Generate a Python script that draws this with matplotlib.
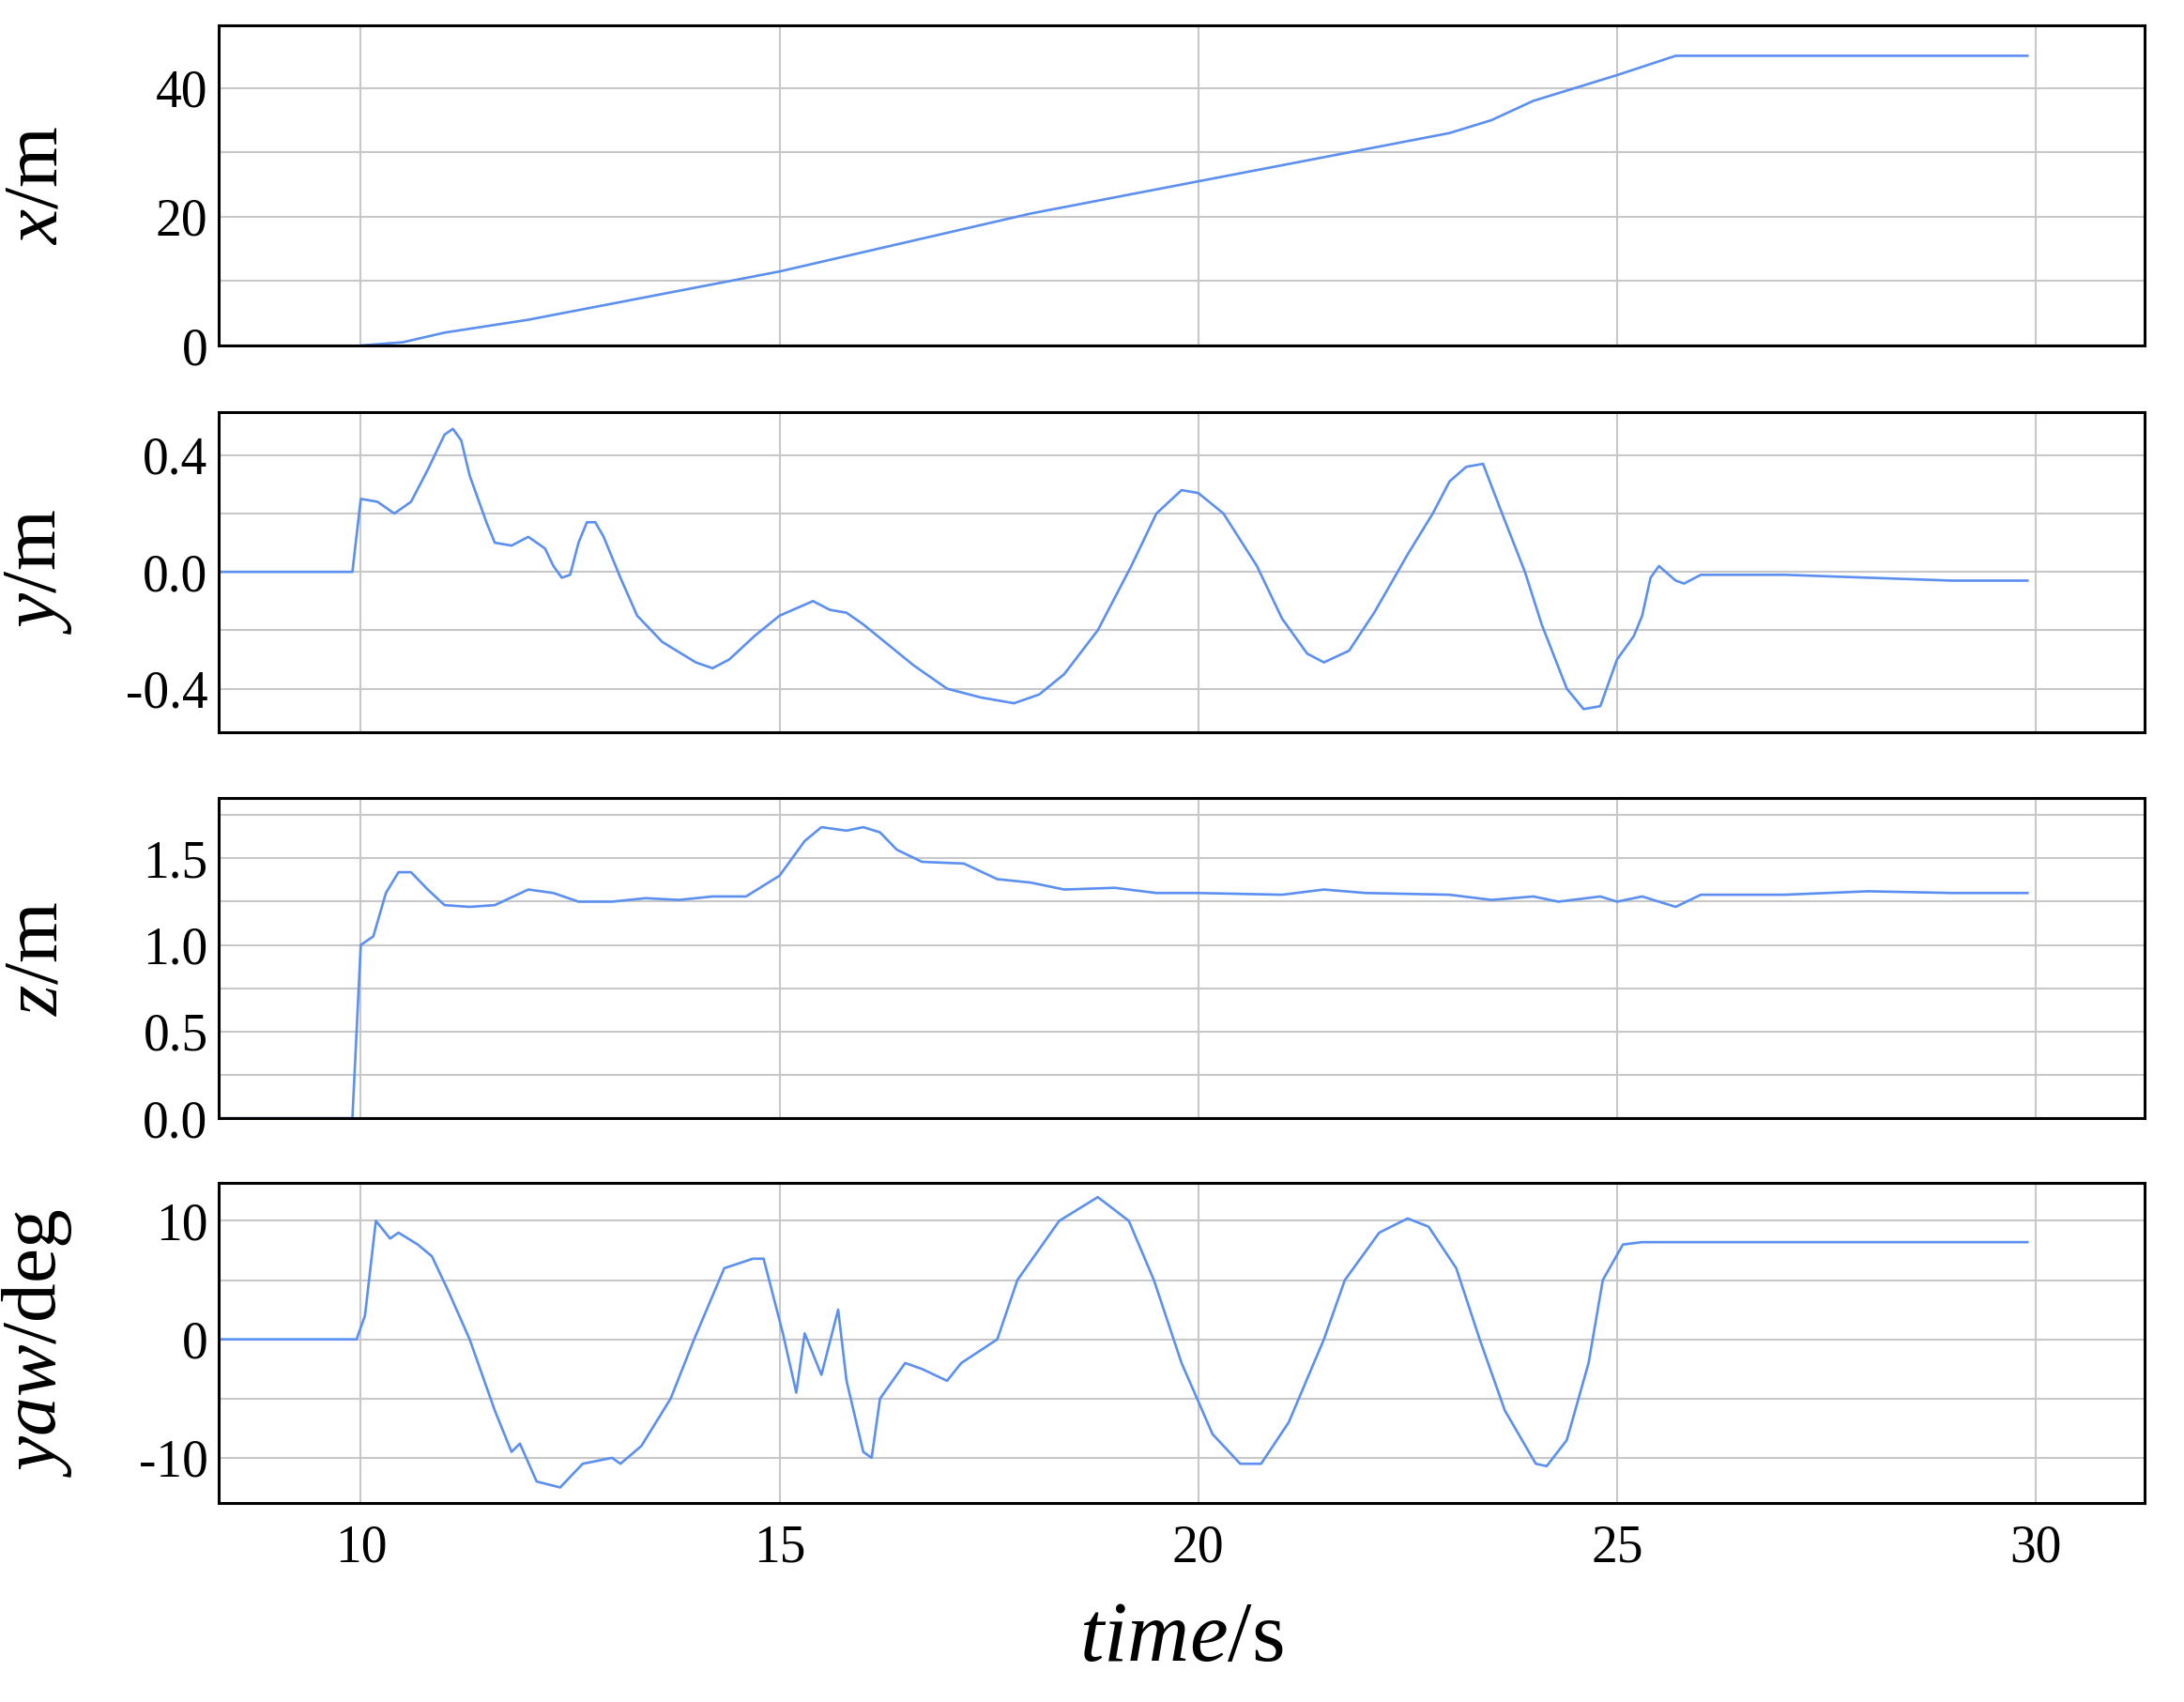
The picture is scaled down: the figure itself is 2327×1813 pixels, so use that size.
import matplotlib
matplotlib.use("Agg")
import matplotlib.pyplot as plt
import numpy as np

plt.rcParams['font.family'] = 'Liberation Serif'
plt.rcParams['mathtext.fontset'] = 'custom'
plt.rcParams['mathtext.rm'] = 'Liberation Serif'
plt.rcParams['mathtext.it'] = 'Liberation Serif:italic'

x_t = [10, 10.5, 11, 12, 13, 14, 15, 15.5, 16, 17, 18, 19, 20, 21, 22, 23, 23.5, 24, 25, 25.7, 29.9]
x_v = [0, 0.5, 2, 4, 6.5, 9, 11.5, 13, 14.5, 17.5, 20.5, 23, 25.5, 28, 30.5, 33, 35, 38, 42, 45, 45]

y_t = [8.3, 9.9, 10.0, 10.2, 10.4, 10.6, 10.8, 11.0, 11.1, 11.2, 11.3, 11.5, 11.6, 11.8, 12.0, 12.2, 12.3, 12.4, 12.5, 12.6, 12.7, 12.8, 12.9, 13.1, 13.3, 13.6, 14.0, 14.2, 14.4, 14.7, 15.0, 15.4, 15.6, 15.8, 16.0, 16.3, 16.6, 17.0, 17.4, 17.8, 18.1, 18.4, 18.8, 19.2, 19.5, 19.8, 20.0, 20.3, 20.7, 21.0, 21.3, 21.5, 21.8, 22.1, 22.5, 22.8, 23.0, 23.2, 23.4, 23.6, 23.9, 24.1, 24.4, 24.6, 24.8, 25.0, 25.2, 25.3, 25.4, 25.5, 25.7, 25.8, 26.0, 27, 28, 29, 29.9]
y_v = [0, 0, 0.25, 0.24, 0.2, 0.24, 0.35, 0.47, 0.49, 0.45, 0.33, 0.17, 0.1, 0.09, 0.12, 0.08, 0.02, -0.02, -0.01, 0.1, 0.17, 0.17, 0.12, -0.02, -0.15, -0.24, -0.31, -0.33, -0.3, -0.22, -0.15, -0.1, -0.13, -0.14, -0.18, -0.25, -0.32, -0.4, -0.43, -0.45, -0.42, -0.35, -0.2, 0.02, 0.2, 0.28, 0.27, 0.2, 0.02, -0.16, -0.28, -0.31, -0.27, -0.14, 0.06, 0.2, 0.31, 0.36, 0.37, 0.22, 0.0, -0.18, -0.4, -0.47, -0.46, -0.3, -0.22, -0.15, -0.02, 0.02, -0.03, -0.04, -0.01, -0.01, -0.02, -0.03, -0.03]

z_t = [8.3, 9.9, 10.0, 10.15, 10.3, 10.45, 10.6, 10.8, 11.0, 11.3, 11.6, 12.0, 12.3, 12.6, 13.0, 13.4, 13.8, 14.2, 14.6, 15.0, 15.3, 15.5, 15.8, 16.0, 16.2, 16.4, 16.7, 17.2, 17.6, 18.0, 18.4, 19.0, 19.5, 20, 21, 21.5, 22, 23, 23.5, 24, 24.3, 24.8, 25, 25.3, 25.7, 26, 27, 28, 29, 29.9]
z_v = [0, 0, 1.0, 1.05, 1.3, 1.42, 1.42, 1.32, 1.23, 1.22, 1.23, 1.32, 1.3, 1.25, 1.25, 1.27, 1.26, 1.28, 1.28, 1.4, 1.6, 1.68, 1.66, 1.68, 1.65, 1.55, 1.48, 1.47, 1.38, 1.36, 1.32, 1.33, 1.3, 1.3, 1.29, 1.32, 1.3, 1.29, 1.26, 1.28, 1.25, 1.28, 1.25, 1.28, 1.22, 1.29, 1.29, 1.31, 1.3, 1.3]

yaw_t = [8.3, 9.95, 10.05, 10.18, 10.35, 10.45, 10.68, 10.85, 11.05, 11.3, 11.6, 11.8, 11.9, 12.1, 12.38, 12.65, 13.0, 13.1, 13.35, 13.7, 13.98, 14.34, 14.68, 14.81, 15.04, 15.2, 15.3, 15.5, 15.7, 15.8, 16.0, 16.1, 16.2, 16.5, 16.7, 17.0, 17.17, 17.6, 17.84, 18.34, 18.8, 19.17, 19.47, 19.8, 20.17, 20.5, 20.75, 21.08, 21.5, 21.75, 22.16, 22.5, 22.75, 23.08, 23.36, 23.66, 24.03, 24.16, 24.4, 24.66, 24.83, 25.07, 25.3, 29.9]
yaw_v = [0, 0, 2, 10, 8.5, 9, 8, 7, 4, 0, -6, -9.5, -8.8, -12, -12.5, -10.5, -10, -10.5, -9, -5, 0, 6, 6.8, 6.8, 0.5, -4.5, 0.5, -3, 2.5, -3.5, -9.5, -10, -5, -2, -2.5, -3.5, -2, 0, 5, 10, 12, 10, 5, -2, -8, -10.5, -10.5, -7, 0, 5, 9, 10.2, 9.5, 6, 0, -6, -10.5, -10.7, -8.5, -2, 5, 8, 8.2, 8.2]

xticks = [10, 15, 20, 25, 30]

fig = plt.figure(figsize=(23.27, 18.13), dpi=100)
L, W, H = 0.100, 0.882, 0.188
bottoms = [0.797, 0.570, 0.343, 0.117]
panels = [
    (x_t, x_v, (0, 49.7), [0, 20, 40], ['0', '20', '40'], 10, r'$\it{x}$/m'),
    (y_t, y_v, (-0.548, 0.548), [-0.4, 0.0, 0.4], ['-0.4', '0.0', '0.4'], 0.2, r'$\it{y}$/m'),
    (z_t, z_v, (0, 1.847), [0, 0.5, 1.0, 1.5], ['0.0', '0.5', '1.0', '1.5'], 0.25, r'$\it{z}$/m'),
    (yaw_t, yaw_v, (-13.8, 13.2), [-10, 0, 10], ['-10', '0', '10'], 5, r'$\it{yaw}$/deg'),
]
color = '#5b8ff0'
for i, (t, v, yl, yt, ytl, gstep, lab) in enumerate(panels):
    ax = fig.add_axes([L, bottoms[i], W, H])
    ax.plot(t, v, color=color, lw=1.9)
    ax.set_xlim(8.3, 31.3)
    ax.set_ylim(*yl)
    ax.set_yticks(yt)
    ax.set_yticklabels(ytl)
    g = np.arange(np.ceil(yl[0] / gstep) * gstep, yl[1], gstep)
    ax.set_yticks(g, minor=True)
    ax.set_xticks(xticks)
    ax.grid(True, which='both', axis='y', color='#c8c8c8', lw=1.5)
    ax.grid(True, which='major', axis='x', color='#c8c8c8', lw=1.5)
    ax.set_axisbelow(True)
    ax.tick_params(which='both', length=0, labelsize=40, pad=8)
    ax.tick_params(axis='x', pad=16)
    if i < 3:
        ax.set_xticklabels([])
    for s in ax.spines.values():
        s.set_linewidth(2.2)
    ax.set_ylabel(lab, fontsize=60)
    ax.yaxis.set_label_coords(-0.075, 0.5)
    if i == 3:
        ax.set_xlabel(r'$\it{time}$/s', fontsize=66, labelpad=22)

fig.savefig('out.png', dpi=100)
